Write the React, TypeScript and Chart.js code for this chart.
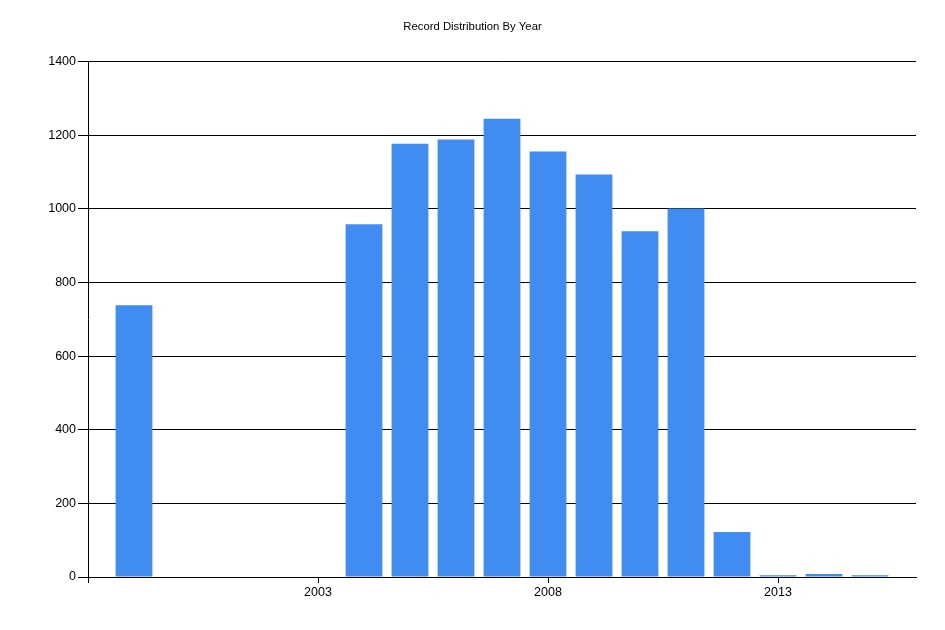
import React, { useEffect, useRef } from "react";
import { Chart, registerables } from "chart.js";

Chart.register(...registerables);

const years = [1999, 2004, 2005, 2006, 2007, 2008, 2009, 2010, 2011, 2012, 2013, 2014, 2015];
const records = [738, 958, 1177, 1188, 1245, 1156, 1093, 939, 1001, 122, 5, 8, 5];
const xTickValues = [1998, 2003, 2008, 2013];
const yTickValues = [0, 200, 400, 600, 800, 1000, 1200, 1400];
const chartTitle = "Record Distribution By Year";

export default function App() {
  const canvasRef = useRef<HTMLCanvasElement | null>(null);

  useEffect(() => {
    document.body.style.margin = "0";
    const canvas = canvasRef.current;
    if (!canvas) return;
    const font = "'Liberation Sans', Arial, sans-serif";
    const chart = new Chart(canvas, {
      type: "bar",
      data: {
        datasets: [
          {
            label: "Records",
            data: years.map((y, i) => ({ x: y, y: records[i] })),
            backgroundColor: "#418CF0",
            borderWidth: 0,
            categoryPercentage: 0.8,
            barPercentage: 1,
            yAxisID: "y",
          },
        ],
      },
      options: {
        responsive: false,
        animation: false,
        devicePixelRatio: 1,
        layout: { padding: 0 },
        plugins: {
          legend: { display: false },
          tooltip: { enabled: false },
          title: {
            display: true,
            text: chartTitle,
            color: "#000",
            font: { family: font, size: 11.3, weight: "normal", lineHeight: 1.2 },
            padding: { top: 20, bottom: 28 },
          },
        },
        scales: {
          x: {
            type: "linear",
            min: 1998,
            max: 2016,
            offset: false,
            grid: {
              offset: false,
              display: true,
              drawOnChartArea: false,
              drawTicks: true,
              tickLength: 6,
              color: "#000",
            },
            border: { display: true, color: "#000", width: 1 },
            afterBuildTicks: (scale: any) => {
              scale.ticks = xTickValues.map((v) => ({ value: v }));
            },
            afterFit: (scale: any) => {
              scale.height = 53;
            },
            ticks: {
              autoSkip: false,
              maxRotation: 0,
              color: "#000",
              padding: 2,
              font: { family: font, size: 12.5 },
              callback: (v: any) => (v === 1998 ? "" : String(v)),
            },
          },
          y: {
            type: "linear",
            position: "left",
            min: 0,
            max: 1400,
            grid: {
              color: "#000",
              lineWidth: 1,
              tickLength: 10,
              drawTicks: true,
            },
            border: { display: true, color: "#000", width: 1 },
            afterBuildTicks: (scale: any) => {
              scale.ticks = yTickValues.map((v) => ({ value: v }));
            },
            afterFit: (scale: any) => {
              scale.width = 88;
            },
            ticks: {
              color: "#000",
              padding: 2,
              font: { family: font, size: 12.5 },
              callback: (v: any) => String(v),
            },
          },
          yRightSpacer: {
            type: "linear",
            position: "right",
            min: 0,
            max: 1400,
            grid: { display: false, drawOnChartArea: false, drawTicks: false },
            border: { display: false },
            ticks: { display: false },
            afterFit: (scale: any) => {
              scale.width = 29;
            },
          },
        },
      },
    } as any);
    return () => chart.destroy();
  }, []);

  return (
    <div style={{ position: "absolute", left: 0, top: 0, width: 945, height: 630, background: "#fff" }}>
      <canvas ref={canvasRef} width={945} height={630} style={{ width: 945, height: 630 }} />
    </div>
  );
}
